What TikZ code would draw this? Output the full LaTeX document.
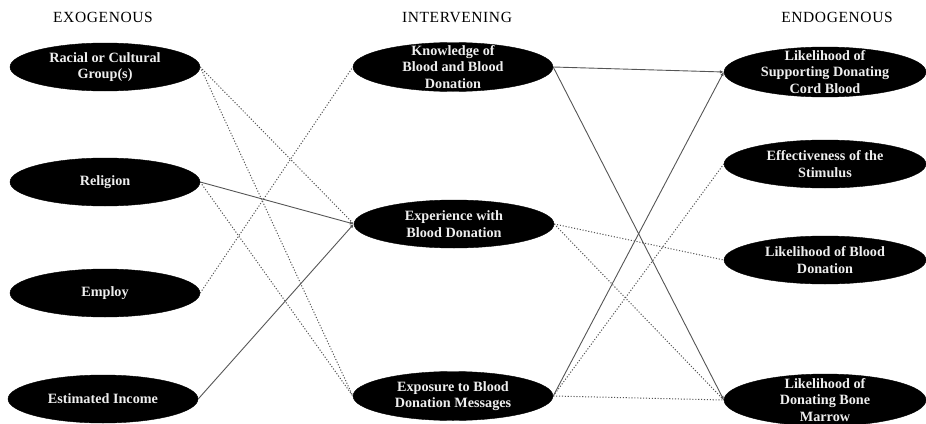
\documentclass[tikz,border=0pt]{standalone}
\usepackage{fontspec}
\setmainfont{Liberation Serif}
\usetikzlibrary{arrows.meta,shapes.geometric}
\definecolor{PathGray}{RGB}{85,85,85}
\definecolor{LabelWhite}{RGB}{238,238,238}

\begin{document}
\begin{tikzpicture}[x=1pt,y=-1pt,>={Latex[length=4pt,width=3.5pt]},
    varnode/.style={ellipse,fill=black,draw=black,inner sep=0pt,
      minimum width=190,minimum height=48},
    vartext/.style={text=LabelWhite,align=center,inner sep=0pt,
      font=\bfseries\fontsize{14.2}{16.5}\selectfont},
    colhead/.style={font=\fontsize{15.5}{18}\selectfont\addfontfeatures{LetterSpace=4}},
    strong/.style={->,draw=PathGray,line width=0.9pt},
    weak/.style={draw=PathGray,line width=1pt,dash pattern=on 1.1pt off 1.8pt}
  ]
  \useasboundingbox (0,0) rectangle (926,423);

  % column heads
  \node[colhead] (hexo) at (103,17) {EXOGENOUS};
  \node[colhead] (hint) at (457,17) {INTERVENING};
  \node[colhead] (hend) at (837,17) {ENDOGENOUS};

  % exogenous
  \node[varnode,label={[vartext]center:Racial or Cultural\\Group(s)}] (race) at (105,67) {};
  \node[varnode,label={[vartext]center:Religion}] (relig) at (105,182) {};
  \node[varnode,label={[vartext]center:Employ}] (employ) at (105,293) {};
  \node[varnode,label={[vartext]center:Estimated Income}] (income) at (103,399) {};

  % intervening
  \node[varnode,minimum width=200,minimum height=49,
    label={[vartext]center:Knowledge of\\Blood and Blood\\Donation}] (know) at (453,67) {};
  \node[varnode,minimum width=200,
    label={[vartext]center:Experience with\\Blood Donation}] (exper) at (454,224) {};
  \node[varnode,minimum width=200,minimum height=49,
    label={[vartext]center:Exposure to Blood\\Donation Messages}] (expos) at (453,396) {};

  % endogenous
  \node[varnode,minimum width=202,minimum height=50,
    label={[vartext]center:Likelihood of\\Supporting Donating\\Cord Blood}] (cord) at (825,72) {};
  \node[varnode,minimum width=202,
    label={[vartext]center:Effectiveness of the\\Stimulus}] (stim) at (825,164) {};
  \node[varnode,minimum width=202,
    label={[vartext]center:Likelihood of Blood\\Donation}] (blood) at (825,260) {};
  \node[varnode,minimum width=202,minimum height=52,
    label={[vartext]center:Likelihood of\\Donating Bone\\Marrow}] (marrow) at (825,400) {};

  % exogenous -> intervening
  \draw[weak] (race.east) -- (exper.west);
  \draw[weak] (race.east) -- (expos.west);
  \draw[strong] (relig.east) -- (exper.west);
  \draw[weak] (relig.east) -- (expos.west);
  \draw[weak] (employ.east) -- (know.west);
  \draw[strong] (income.east) -- (exper.west);

  % intervening -> endogenous
  \draw[strong] (know.east) -- (cord.west);
  \draw[strong] (know.east) -- (marrow.west);
  \draw[weak] (exper.east) -- (blood.west);
  \draw[weak] (exper.east) -- (marrow.west);
  \draw[strong] (expos.east) -- (cord.west);
  \draw[weak] (expos.east) -- (stim.west);
  \draw[weak] (expos.east) -- (marrow.west);
\end{tikzpicture}
\end{document}
